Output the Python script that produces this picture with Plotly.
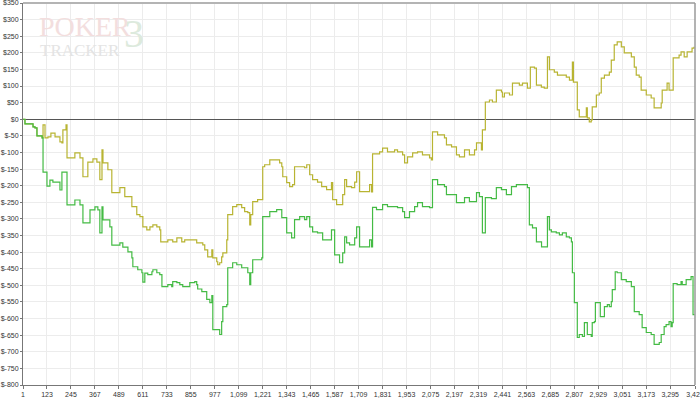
import plotly.graph_objects as go

# ---- data ----
green_hands = [1, 11, 52, 62, 72, 98, 103, 123, 138, 153, 189, 199, 225, 265, 291, 306, 342, 367, 382, 392,
               403, 408, 443, 453, 494, 509, 535, 555, 560, 585, 606, 611, 621, 636, 657, 662, 682, 697, 708,
               738, 758, 763, 784, 799, 814, 850, 875, 885, 890, 911, 936, 952, 962, 967, 1002, 1012, 1018,
               1038, 1043, 1068, 1089, 1114, 1145, 1155, 1160, 1170, 1216, 1221, 1257, 1292, 1318, 1343, 1368,
               1383, 1409, 1434, 1445, 1460, 1475, 1500, 1526, 1571, 1587, 1612, 1628, 1638, 1648, 1663, 1689,
               1699, 1714, 1765, 1775, 1780, 1800, 1831, 1856, 1907, 1933, 1943, 1968, 1994, 2009, 2034, 2070,
               2085, 2111, 2146, 2156, 2207, 2248, 2273, 2309, 2324, 2339, 2354, 2385, 2410, 2436, 2461, 2487,
               2512, 2568, 2578, 2594, 2614, 2640, 2670, 2680, 2690, 2715, 2731, 2746, 2766, 2782, 2792, 2797,
               2807, 2822, 2832, 2848, 2858, 2873, 2893, 2898, 2909, 2914, 2939, 2960, 2975, 2985, 2995, 3000,
               3015, 3025, 3046, 3071, 3097, 3112, 3137, 3152, 3173, 3198, 3213, 3239, 3249, 3264, 3274, 3289,
               3299, 3305, 3310, 3330, 3350, 3356, 3376, 3401, 3411, 3416]
green_values = [0, -14, -23, -26, -50, -56, -159, -201, -183, -189, -213, -159, -258, -243, -258, -312, -273,
                -264, -273, -342, -264, -303, -324, -379, -372, -385, -399, -417, -444, -453, -462, -490, -463,
                -468, -459, -453, -462, -468, -504, -498, -504, -489, -492, -498, -504, -492, -489, -498, -511,
                -519, -542, -552, -531, -633, -648, -609, -564, -558, -447, -432, -438, -447, -462, -498, -462,
                -423, -417, -293, -278, -272, -296, -342, -357, -302, -293, -302, -293, -324, -339, -342, -363,
                -333, -408, -432, -402, -354, -372, -378, -357, -324, -384, -363, -384, -265, -272, -257, -263,
                -266, -278, -296, -278, -263, -251, -263, -266, -182, -197, -203, -227, -251, -236, -248, -221,
                -233, -342, -236, -239, -206, -212, -227, -203, -197, -206, -318, -327, -369, -384, -293, -333,
                -339, -342, -348, -342, -354, -357, -369, -462, -552, -657, -648, -654, -612, -648, -654, -612,
                -609, -552, -594, -564, -558, -564, -549, -513, -459, -462, -483, -489, -504, -579, -588, -627,
                -642, -648, -678, -672, -648, -624, -618, -609, -624, -612, -495, -498, -489, -498, -483, -474,
                -588, -590]

yellow_hands = [1, 11, 52, 62, 72, 98, 103, 113, 128, 143, 164, 189, 199, 204, 220, 225, 265, 291, 306, 331,
                357, 377, 392, 403, 408, 433, 453, 494, 519, 555, 580, 596, 611, 631, 647, 662, 682, 697, 702,
                738, 763, 784, 809, 824, 885, 916, 926, 941, 962, 967, 987, 992, 1002, 1012, 1018, 1038, 1043,
                1068, 1089, 1114, 1129, 1145, 1155, 1160, 1170, 1195, 1221, 1231, 1257, 1307, 1318, 1323, 1343,
                1358, 1373, 1383, 1434, 1445, 1460, 1475, 1500, 1521, 1546, 1571, 1577, 1597, 1628, 1638, 1648,
                1673, 1689, 1699, 1714, 1765, 1775, 1780, 1816, 1831, 1856, 1892, 1907, 1933, 1943, 1958, 1984,
                2009, 2034, 2070, 2080, 2085, 2111, 2146, 2156, 2182, 2207, 2222, 2248, 2273, 2299, 2309, 2334,
                2339, 2354, 2375, 2390, 2410, 2436, 2441, 2451, 2477, 2492, 2527, 2543, 2568, 2583, 2604, 2614,
                2639, 2654, 2670, 2680, 2705, 2721, 2766, 2782, 2797, 2802, 2822, 2832, 2868, 2873, 2883, 2893,
                2898, 2919, 2934, 2944, 2960, 2985, 2995, 3010, 3025, 3046, 3061, 3097, 3112, 3122, 3137, 3147,
                3173, 3198, 3213, 3249, 3254, 3279, 3289, 3310, 3340, 3350, 3366, 3381, 3406, 3416]
yellow_values = [0, -14, -23, -26, -50, -56, -17, -56, -53, -42, -53, -68, -71, -32, -17, -116, -101, -116,
                 -173, -129, -119, -129, -182, -92, -131, -152, -221, -206, -233, -263, -287, -293, -324, -333,
                 -324, -318, -324, -333, -369, -363, -369, -357, -369, -363, -372, -378, -393, -414, -393, -417,
                 -429, -438, -432, -414, -402, -363, -287, -263, -257, -266, -278, -281, -318, -287, -248, -242,
                 -143, -137, -122, -131, -143, -173, -191, -203, -197, -143, -146, -137, -167, -182, -189, -203,
                 -212, -191, -242, -257, -227, -182, -203, -206, -189, -158, -218, -197, -219, -104, -98, -87,
                 -98, -92, -98, -107, -131, -113, -101, -98, -107, -116, -122, -38, -47, -56, -77, -83, -107,
                 -113, -92, -107, -92, -71, -92, -32, 52, 58, 52, 88, 82, 67, 79, 73, 109, 103, 109, 94, 157,
                 154, 103, 97, 94, 188, 149, 142, 133, 127, 118, 172, 112, 28, 7, 34, 4, -8, -2, 37, 73, 79,
                 124, 133, 142, 178, 224, 233, 218, 200, 188, 157, 133, 127, 88, 73, 64, 34, 49, 88, 109, 88,
                 185, 193, 203, 188, 203, 214, 218]

x_ticks = [1, 123, 245, 367, 489, 611, 733, 855, 977, 1099, 1221, 1343, 1465, 1587, 1709, 1831, 1953, 2075,
           2197, 2319, 2441, 2563, 2685, 2807, 2929, 3051, 3173, 3295, 3421]
y_ticks = [350, 300, 250, 200, 150, 100, 50, 0, -50, -100, -150, -200, -250, -300, -350, -400, -450, -500,
           -550, -600, -650, -700, -750, -800]

x_text = [f"{v:,}" for v in x_ticks]
y_text = [f"${v}" for v in y_ticks]

GREEN = "#44bb44"
YELLOW = "#b8b432"
FONT = "Liberation Sans, Arial, sans-serif"

fig = go.Figure()
fig.add_trace(go.Scatter(x=yellow_hands, y=yellow_values, mode="lines", line_shape="hv",
                         line=dict(color=YELLOW, width=1.2), showlegend=False, hoverinfo="skip"))
fig.add_trace(go.Scatter(x=green_hands, y=green_values, mode="lines", line_shape="hv",
                         line=dict(color=GREEN, width=1.2), showlegend=False, hoverinfo="skip"))

fig.update_layout(
    width=700, height=399,
    margin=dict(l=23, r=5, t=3, b=14, pad=0, autoexpand=False),
    paper_bgcolor="white", plot_bgcolor="white",
    font=dict(family=FONT, size=7, color="#333333"),
    xaxis=dict(range=[1, 3421], tickmode="array", tickvals=x_ticks, ticktext=x_text,
               automargin=False, ticklabeloverflow="allow",
               showgrid=True, gridcolor="#ececec", gridwidth=1, zeroline=False,
               showline=True, linecolor="#777777", linewidth=1,
               ticks="outside", ticklen=3, tickcolor="#777777",
               tickfont=dict(family=FONT, size=7, color="#333333"), tickangle=0),
    yaxis=dict(range=[-800, 350], tickmode="array", tickvals=y_ticks, ticktext=y_text,
               automargin=False, ticklabeloverflow="allow",
               showgrid=True, gridcolor="#ececec", gridwidth=1,
               zeroline=True, zerolinecolor="#555555", zerolinewidth=1,
               showline=True, linecolor="#777777", linewidth=1,
               ticks="outside", ticklen=2, tickcolor="#777777",
               tickfont=dict(family=FONT, size=7, color="#333333")),
)

# top and right frame
fig.add_shape(type="line", xref="paper", yref="paper", x0=0, x1=1, y0=1, y1=1,
              line=dict(color="#b4b4b4", width=2))
fig.add_shape(type="line", xref="paper", yref="paper", x0=1, x1=1, y0=0, y1=1,
              line=dict(color="#9a9a9a", width=1.5))

# watermark logo
fig.add_annotation(xref="paper", yref="paper", x=0.021, y=0.985, xanchor="left", yanchor="top",
                   text="POKER", showarrow=False,
                   font=dict(family="Liberation Serif, DejaVu Serif, serif", size=28, color="#f3dede"))
fig.add_annotation(xref="paper", yref="paper", x=0.023, y=0.905, xanchor="left", yanchor="top",
                   text="TRACKER", showarrow=False,
                   font=dict(family="Liberation Serif, DejaVu Serif, serif", size=17, color="#e4e4e4"))
fig.add_annotation(xref="paper", yref="paper", x=0.147, y=0.985, xanchor="left", yanchor="top",
                   text="3", showarrow=False,
                   font=dict(family="Liberation Serif, DejaVu Serif, serif", size=40, color="#ddeadd"))

# x axis title (mostly clipped at bottom in the reference)
fig.add_annotation(xref="paper", yref="paper", x=0.5, y=-0.058, xanchor="center", yanchor="top",
                   text="Hands Played", showarrow=False,
                   font=dict(family=FONT, size=7, color="#333333"))

fig.write_html("out.html", config={"displayModeBar": False},
               post_script="document.body.style.margin='0px';document.body.style.overflow='hidden';")
